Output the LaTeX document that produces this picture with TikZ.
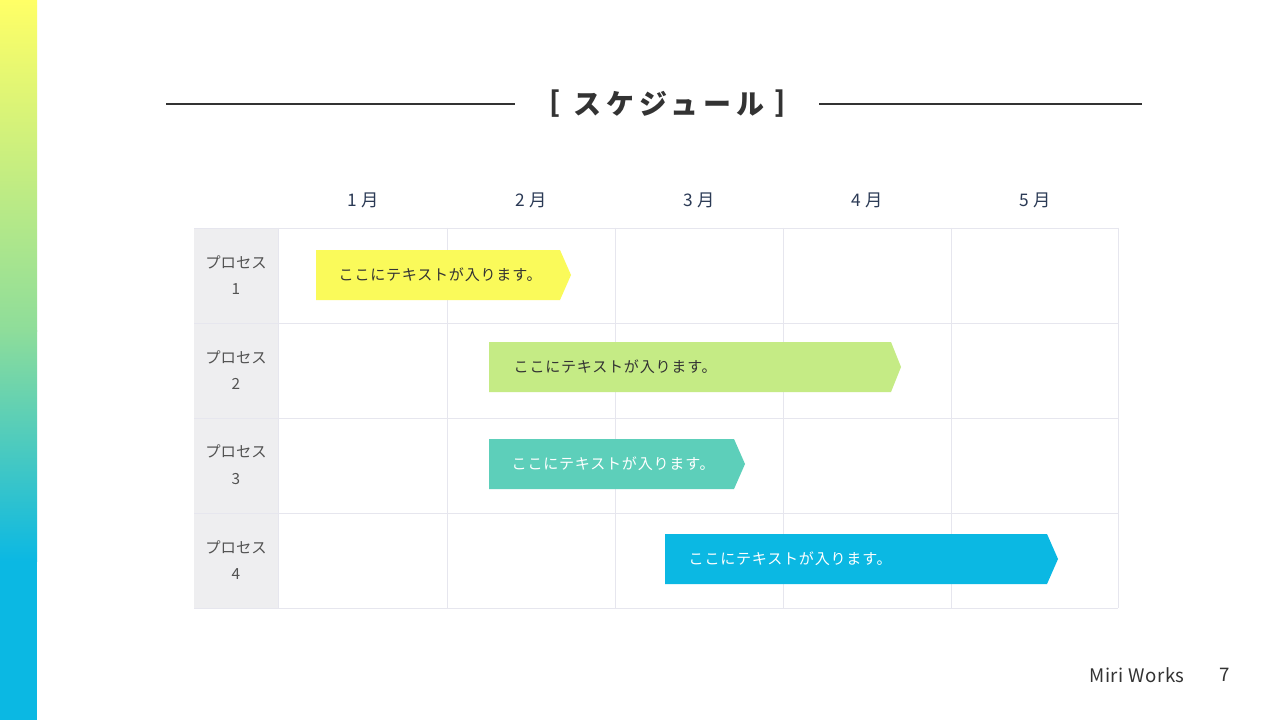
\documentclass[tikz,border=0pt]{standalone}
\usepackage{fontspec}
\setmainfont{Noto Sans CJK JP}
\definecolor{ttl}{HTML}{333333}
\definecolor{mon}{HTML}{2B3A55}
\definecolor{grid}{HTML}{E6E6EE}
\definecolor{lab}{HTML}{EEEEF0}
\definecolor{b1}{HTML}{FAFA5A}
\definecolor{b2}{HTML}{C5EB85}
\definecolor{b3}{HTML}{5DCFBA}
\definecolor{b4}{HTML}{0BB8E3}
\definecolor{gy}{HTML}{FFFF66}
\definecolor{gg}{HTML}{8EDD9A}
\begin{document}
\begin{tikzpicture}[x=0.75pt,y=-0.75pt,
  ttlfont/.style={text=ttl,font=\fontsize{21}{25}\bfseries\selectfont\addfontfeatures{LetterSpace=18}},
  month/.style={text=mon,font=\fontsize{13}{15}\selectfont\addfontfeatures{LetterSpace=6}},
  proc/.style={text=ttl!85,font=\fontsize{11.5}{20}\selectfont,align=center},
  bartext/.style={font=\fontsize{11.3}{13}\selectfont\addfontfeatures{LetterSpace=5},anchor=west}]
\useasboundingbox (0,0) rectangle (1280,720);
\fill[white] (0,0) rectangle (1280,720);
\fill[b4] (0,560) rectangle (37,720);
\shade[top color=gg,bottom color=b4] (0,330) rectangle (37,561);
\shade[top color=gy,bottom color=gg] (0,0) rectangle (37,331);
% title
\node[ttlfont] (title) at (669,104) {スケジュール};
\node[ttlfont] (lb) at (555,104) {[};
\node[ttlfont] (rb) at (780,104) {]};
\coordinate (l1) at (166,104); \coordinate (l2) at (515,104);
\coordinate (r1) at (819,104); \coordinate (r2) at (1142,104);
\draw[ttl,line width=1.5pt] (l1) -- (l2);
\draw[ttl,line width=1.5pt] (r1) -- (r2);
% table
\fill[lab] (194,228) rectangle (278,608);
\foreach \x in {278,447,615,783,951,1118} \draw[grid,line width=0.6pt] (\x,228) -- (\x,608);
\foreach \y in {228,323,418,513,608} \draw[grid,line width=0.6pt] (194,\y) -- (1118,\y);
\foreach \i/\x in {1/363,2/531,3/699,4/867,5/1035} \node[month] (m\i) at (\x,200) {\i\ 月};
\foreach \i/\y in {1/275,2/370,3/465,4/560} \node[proc] (p\i) at (236,\y) {プロセス\\\i};
% bars
\fill[b1] (316,250) -- (560,250) -- (571,275) -- (560,300) -- (316,300) -- cycle;
\node[bartext,text=ttl] (t1) at (334,275) {ここにテキストが入ります。};
\fill[b2] (489,342) -- (891,342) -- (901,367) -- (891,392) -- (489,392) -- cycle;
\node[bartext,text=ttl] (t2) at (509,367) {ここにテキストが入ります。};
\fill[b3] (489,439) -- (734,439) -- (745,464) -- (734,489) -- (489,489) -- cycle;
\node[bartext,text=white] (t3) at (507,464) {ここにテキストが入ります。};
\fill[b4] (665,534) -- (1047,534) -- (1058,559) -- (1047,584) -- (665,584) -- cycle;
\node[bartext,text=white] (t4) at (684,559) {ここにテキストが入ります。};
% footer
\node[text=ttl,font=\fontsize{14}{16}\selectfont\addfontfeatures{LetterSpace=3}] (ft) at (1137,675) {Miri Works};
\node[text=ttl,font=\fontsize{14}{16}\selectfont] (pg) at (1225,675) {7};
\end{tikzpicture}
\end{document}
